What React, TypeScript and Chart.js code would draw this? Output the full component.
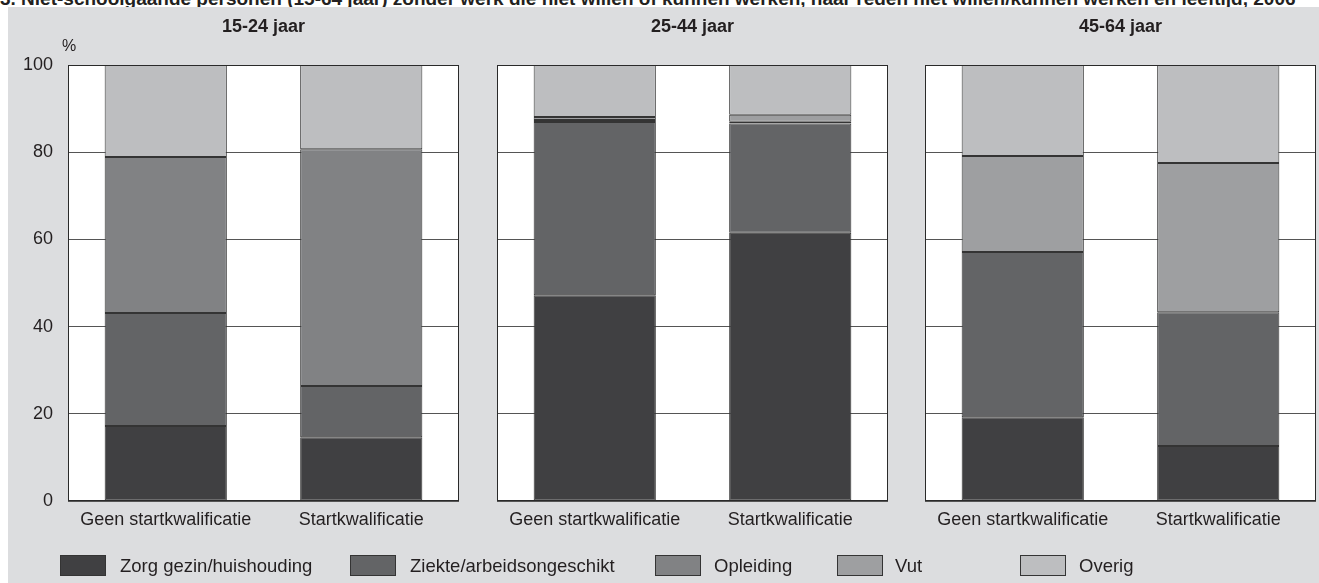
import React, { useEffect, useRef } from "react";
import { Chart, registerables } from "chart.js";

Chart.register(...registerables);

// ---- data ----
const chartTitle =
  "3. Niet-schoolgaande personen (15-64 jaar) zonder werk die niet willen of kunnen werken, naar reden niet willen/kunnen werken en leeftijd, 2006";
const panelTitles = ["15-24 jaar", "25-44 jaar", "45-64 jaar"];
const categories = ["Geen startkwalificatie", "Startkwalificatie"];
const seriesNames = [
  "Zorg gezin/huishouding",
  "Ziekte/arbeidsongeschikt",
  "Opleiding",
  "Vut",
  "Overig",
];
// values per panel: [15-24 geen, 15-24 start, 25-44 geen, 25-44 start, 45-64 geen, 45-64 start]
const zorg = [17.2, 14.6, 47.2, 61.5, 19.2, 12.6];
const ziekte = [25.9, 11.8, 39.7, 25.1, 37.9, 30.7];
const opleiding = [35.8, 54.3, 0.5, 0.4, 0, 0];
const vut = [0, 0, 0.7, 1.6, 22.0, 34.2];
const overig = [21.1, 19.3, 11.9, 11.4, 20.9, 22.5];
const yTicks = [0, 20, 40, 60, 80, 100];

const seriesValues = [zorg, ziekte, opleiding, vut, overig];
const seriesColors = ["#404042", "#636466", "#818284", "#9e9fa1", "#bdbec0"];

const FONT = '"Liberation Sans", Arial, Helvetica, sans-serif';
const TEXT = "#231f20";

type PanelLayout = {
  canvasLeft: number;
  canvasWidth: number;
  areaLeft: number;
  areaRight: number;
  showYTicks: boolean;
};

const AREA_TOP = 65;
const AREA_BOTTOM = 501;
const PAGE_H = 583;

const panels: PanelLayout[] = [
  { canvasLeft: 0, canvasWidth: 470, areaLeft: 68, areaRight: 459, showYTicks: true },
  { canvasLeft: 470, canvasWidth: 430, areaLeft: 497, areaRight: 888, showYTicks: false },
  { canvasLeft: 900, canvasWidth: 419, areaLeft: 925, areaRight: 1316, showYTicks: false },
];

const areaPlugin = {
  id: "areaPlugin",
  beforeDraw(chart: any) {
    const { ctx, chartArea } = chart;
    ctx.save();
    ctx.fillStyle = "#ffffff";
    ctx.fillRect(chartArea.left, chartArea.top, chartArea.right - chartArea.left, chartArea.bottom - chartArea.top);
    ctx.restore();
  },
  afterDraw(chart: any) {
    const { ctx, chartArea } = chart;
    ctx.save();
    ctx.strokeStyle = "#2a2a2a";
    ctx.lineWidth = 1;
    const l = Math.round(chartArea.left) + 0.5;
    const t = Math.round(chartArea.top) + 0.5;
    const r = Math.round(chartArea.right) - 0.5;
    const b = Math.round(chartArea.bottom) - 0.5;
    ctx.strokeRect(l, t, r - l, b - t);
    ctx.restore();
  },
};

function Panel({ index }: { index: number }) {
  const ref = useRef<HTMLCanvasElement | null>(null);
  const p = panels[index];
  useEffect(() => {
    if (!ref.current) return;
    const yAxisW = p.showYTicks ? 60 : 0;
    const xAxisH = 40;
    const chart = new Chart(ref.current, {
      type: "bar",
      data: {
        labels: categories,
        datasets: seriesNames.map((name, si) => ({
          label: name,
          data: seriesValues[si].slice(index * 2, index * 2 + 2),
          backgroundColor: seriesColors[si],
          borderColor: "#343434",
          borderWidth: 1,
          borderSkipped: false,
          categoryPercentage: 1,
          barPercentage: 0.625,
        })),
      },
      options: {
        animation: false,
        responsive: false,
        maintainAspectRatio: false,
        layout: {
          padding: {
            left: p.areaLeft - p.canvasLeft - yAxisW,
            right: p.canvasLeft + p.canvasWidth - p.areaRight,
            top: AREA_TOP,
            bottom: PAGE_H - AREA_BOTTOM - xAxisH,
          },
        },
        plugins: {
          legend: { display: false },
          title: { display: false },
          tooltip: { enabled: false },
        },
        scales: {
          x: {
            stacked: true,
            grid: { display: false, drawTicks: false },
            border: { display: false },
            ticks: {
              font: { family: FONT, size: 18 },
              color: TEXT,
              padding: 8,
              maxRotation: 0,
              autoSkip: false,
            },
            afterFit: (s: any) => {
              s.height = xAxisH;
            },
          },
          y: {
            stacked: true,
            min: 0,
            max: 100,
            afterBuildTicks: (s: any) => {
              s.ticks = yTicks.map((v) => ({ value: v }));
            },
            grid: { color: "#555555", lineWidth: 1, drawTicks: false },
            border: { display: false },
            ticks: {
              display: p.showYTicks,
              font: { family: FONT, size: 18 },
              color: TEXT,
              padding: 15,
            },
            afterFit: (s: any) => {
              s.width = yAxisW;
            },
          },
        },
      },
      plugins: [areaPlugin],
    });
    return () => chart.destroy();
  }, [index]);

  return (
    <canvas
      ref={ref}
      width={p.canvasWidth}
      height={PAGE_H}
      style={{
        position: "absolute",
        left: p.canvasLeft,
        top: 0,
        width: p.canvasWidth,
        height: PAGE_H,
        display: "block",
      }}
    />
  );
}

const legendBoxX = [60, 350, 655, 837, 1020];
const legendTextX = [120, 410, 714, 895, 1079];

export default function App() {
  return (
    <div
      style={{
        position: "absolute",
        left: 0,
        top: 0,
        width: 1319,
        height: PAGE_H,
        overflow: "hidden",
        background: "#ffffff",
        fontFamily: FONT,
        color: TEXT,
      }}
    >
      <div
        style={{
          position: "absolute",
          left: 0,
          top: -11,
          whiteSpace: "nowrap",
          fontWeight: "bold",
          fontSize: 19,
          lineHeight: "19px",
        }}
      >
        {chartTitle}
      </div>
      <div
        style={{
          position: "absolute",
          left: 8,
          top: 7,
          width: 1311,
          height: PAGE_H - 7,
          background: "#dcdddf",
        }}
      />
      {panels.map((_, i) => (
        <Panel key={i} index={i} />
      ))}
      {panelTitles.map((t, i) => (
        <div
          key={t}
          style={{
            position: "absolute",
            left: panels[i].areaLeft,
            width: panels[i].areaRight - panels[i].areaLeft,
            top: 15,
            textAlign: "center",
            fontWeight: "bold",
            fontSize: 18,
            lineHeight: "22px",
          }}
        >
          {t}
        </div>
      ))}
      <div
        style={{
          position: "absolute",
          left: 62,
          top: 36,
          fontSize: 16,
          lineHeight: "20px",
        }}
      >
        %
      </div>
      {seriesNames.map((name, i) => (
        <React.Fragment key={name}>
          <div
            style={{
              position: "absolute",
              left: legendBoxX[i],
              top: 555,
              width: 44,
              height: 19,
              background: seriesColors[i],
              border: "1px solid #343434",
            }}
          />
          <div
            style={{
              position: "absolute",
              left: legendTextX[i],
              top: 554,
              fontSize: 18.5,
              lineHeight: "24px",
              whiteSpace: "nowrap",
            }}
          >
            {name}
          </div>
        </React.Fragment>
      ))}
    </div>
  );
}
